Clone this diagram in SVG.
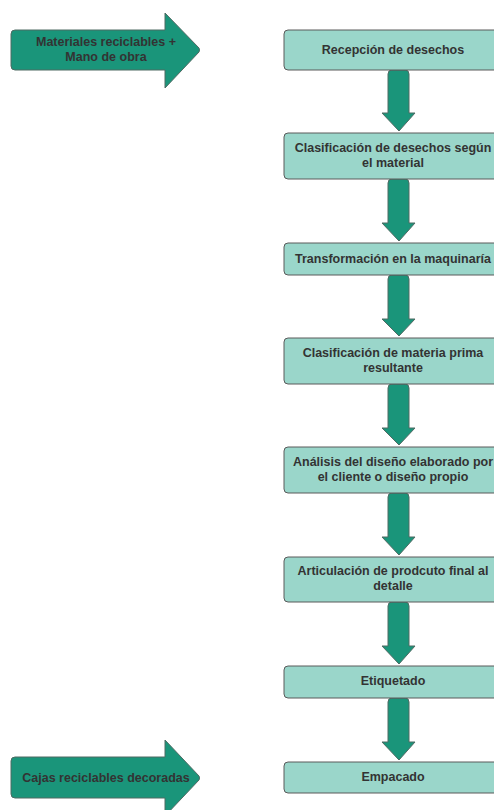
<svg xmlns="http://www.w3.org/2000/svg" width="494" height="810" viewBox="0 0 494 810">
<style>
.box{fill:#9ad6ca;stroke:#5a5a5a;stroke-width:1}
.arr{fill:#1a957a;stroke:#4f6a63;stroke-width:1;stroke-linejoin:round}
.t{font-family:"Liberation Sans",Arial,sans-serif;font-weight:bold;font-size:12.5px;fill:#333333;text-anchor:middle}
</style>
<rect width="494" height="810" fill="#ffffff"/>
<g id="input1">
<path class="arr" d="M15,30 L165,30 L165,13 L199,48 Q200,50 199,52 L165,88 L165,70 L15,70 Q11,70 11,66 L11,34 Q11,30 15,30 Z"/>
<text class="t" x="106" y="46">Materiales reciclables +</text>
<text class="t" x="106" y="61">Mano de obra</text>
</g>
<g id="input2">
<path class="arr" d="M15,757 L165,757 L165,740 L199,776 Q200,778 199,780 L165,816 L165,798 L15,798 Q11,798 11,794 L11,761 Q11,757 15,757 Z"/>
<text class="t" x="106" y="782">Cajas reciclables decoradas</text>
</g>
<g id="connectors">
<path class="arr" d="M388,74 Q388,70 392,70 L405,70 Q409,70 409,74 L409,113 L415,113 L399,131 L382,113 L388,113 Z"/>
<path class="arr" d="M388,183 Q388,179 392,179 L405,179 Q409,179 409,183 L409,223 L415,223 L399,241 L382,223 L388,223 Z"/>
<path class="arr" d="M388,279 Q388,275 392,275 L405,275 Q409,275 409,279 L409,319 L415,319 L399,336 L382,319 L388,319 Z"/>
<path class="arr" d="M388,388 Q388,384 392,384 L405,384 Q409,384 409,388 L409,428 L415,428 L399,445 L382,428 L388,428 Z"/>
<path class="arr" d="M388,497 Q388,493 392,493 L405,493 Q409,493 409,497 L409,537 L415,537 L399,555 L382,537 L388,537 Z"/>
<path class="arr" d="M388,606 Q388,602 392,602 L405,602 Q409,602 409,606 L409,646 L415,646 L399,664 L382,646 L388,646 Z"/>
<path class="arr" d="M388,702 Q388,698 392,698 L405,698 Q409,698 409,702 L409,742 L415,742 L399,760 L382,742 L388,742 Z"/>
</g>
<g id="n1"><rect class="box" x="284" y="30" width="218" height="40" rx="4"/><text class="t" x="393" y="54">Recepción de desechos</text></g>
<g id="n2"><rect class="box" x="284" y="133" width="218" height="46" rx="4"/><text class="t" x="393" y="152">Clasificación de desechos según</text><text class="t" x="393" y="167">el material</text></g>
<g id="n3"><rect class="box" x="284" y="243" width="218" height="32" rx="4"/><text class="t" x="393" y="263">Transformación en la maquinaría</text></g>
<g id="n4"><rect class="box" x="284" y="338" width="218" height="46" rx="4"/><text class="t" x="393" y="357">Clasificación de materia prima</text><text class="t" x="393" y="372">resultante</text></g>
<g id="n5"><rect class="box" x="284" y="447" width="218" height="46" rx="4"/><text class="t" x="393" y="466">Análisis del diseño elaborado por</text><text class="t" x="393" y="481">el cliente o diseño propio</text></g>
<g id="n6"><rect class="box" x="284" y="557" width="218" height="45" rx="4"/><text class="t" x="393" y="575">Articulación de prodcuto final al</text><text class="t" x="393" y="590">detalle</text></g>
<g id="n7"><rect class="box" x="284" y="666" width="218" height="32" rx="4"/><text class="t" x="393" y="685">Etiquetado</text></g>
<g id="n8"><rect class="box" x="284" y="762" width="218" height="31" rx="4"/><text class="t" x="393" y="781">Empacado</text></g>
</svg>
